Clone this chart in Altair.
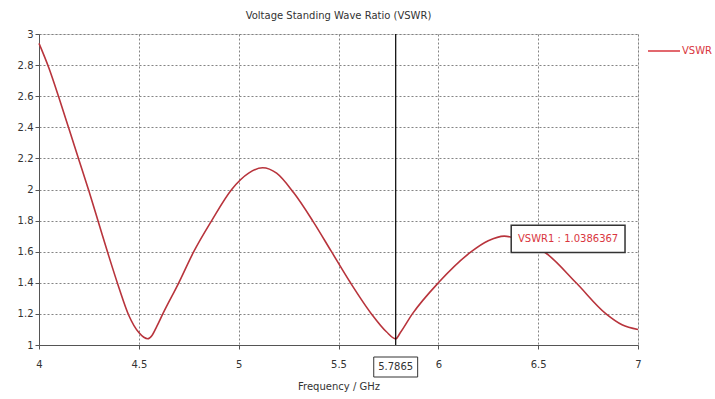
import altair as alt
import pandas as pd

freq = [4.00, 4.05, 4.10, 4.15, 4.20, 4.25, 4.30, 4.35, 4.40, 4.45, 4.50, 4.525, 4.545,
        4.565, 4.59, 4.62, 4.70, 4.775, 4.865, 4.965, 5.05, 5.12, 5.19, 5.275, 5.37, 5.465,
        5.56, 5.665, 5.74, 5.7865, 5.81, 5.87, 6.00, 6.165, 6.25, 6.33, 6.42, 6.54,
        6.69, 6.84, 6.92, 7.00]
vswr = [2.94, 2.78, 2.59, 2.39, 2.19, 1.99, 1.78, 1.57, 1.37, 1.19, 1.08, 1.05, 1.04,
        1.06, 1.12, 1.20, 1.40, 1.60, 1.80, 2.00, 2.105, 2.14, 2.105, 1.98, 1.80, 1.60,
        1.40, 1.20, 1.085, 1.04, 1.08, 1.20, 1.40, 1.60, 1.67, 1.70, 1.67, 1.59,
        1.40, 1.20, 1.13, 1.10]
x_ticks = [4, 4.5, 5, 5.5, 6, 6.5, 7]
y_ticks = [1, 1.2, 1.4, 1.6, 1.8, 2, 2.2, 2.4, 2.6, 2.8, 3]
marker_freq = 5.7865
marker_text = "VSWR1 : 1.0386367"
box_x = [6.365, 6.935]
box_y = [1.77, 1.595]

W, H = 599, 311
FONT = "DejaVu Sans"
RED = "#d9363e"

df = pd.DataFrame({"f": freq, "v": vswr})
xs = alt.Scale(domain=[4, 7], nice=False)
ys = alt.Scale(domain=[1, 3], nice=False)

line = alt.Chart(df).mark_line(color="#b8343c", strokeWidth=1.6,
                               interpolate="monotone").encode(
    x=alt.X("f:Q", scale=xs, title="Frequency / GHz",
            axis=alt.Axis(values=x_ticks, tickCount=len(x_ticks), format="~g")),
    y=alt.Y("v:Q", scale=ys, title=None,
            axis=alt.Axis(values=y_ticks, tickCount=len(y_ticks), format="~g")),
)

mk = pd.DataFrame({"f": [marker_freq], "lo": [marker_freq - 0.11], "hi": [marker_freq + 0.11],
                   "lab": [f"{marker_freq:.4f}"]})
vrule = alt.Chart(mk).mark_rule(color="#000", strokeWidth=1.2).encode(
    x=alt.X("f:Q", scale=xs), y=alt.value(0), y2=alt.value(H))
xbox = alt.Chart(mk).mark_rect(fill="white", stroke="#333", strokeWidth=1).encode(
    x=alt.X("lo:Q", scale=xs), x2="hi:Q", y=alt.value(323), y2=alt.value(343))
xlab = alt.Chart(mk).mark_text(font=FONT, fontSize=10, color="#333").encode(
    x=alt.X("f:Q", scale=xs), y=alt.value(333), text="lab:N")

bx = pd.DataFrame({"x1": [box_x[0]], "x2": [box_x[1]], "y1": [box_y[0]], "y2": [box_y[1]],
                   "t": [marker_text], "xc": [sum(box_x) / 2], "yc": [sum(box_y) / 2]})
box = alt.Chart(bx).mark_rect(fill="white", stroke="#333", strokeWidth=1.5).encode(
    x=alt.X("x1:Q", scale=xs), x2="x2:Q",
    y=alt.Y("y1:Q", scale=ys), y2="y2:Q")
boxtxt = alt.Chart(bx).mark_text(font=FONT, fontSize=10, color=RED).encode(
    x=alt.X("xc:Q", scale=xs), y=alt.Y("yc:Q", scale=ys), text="t:N")

leg = pd.DataFrame({"t": ["VSWR"]})
legline = alt.Chart(leg).mark_rule(color=RED, strokeWidth=1.5).encode(
    x=alt.value(609), x2=alt.value(641), y=alt.value(17))
legtxt = alt.Chart(leg).mark_text(font=FONT, fontSize=10, color=RED, align="left").encode(
    x=alt.value(643), y=alt.value(17), text="t:N")

chart = alt.layer(line, vrule, box, boxtxt, xbox, xlab, legline, legtxt).properties(
    width=W, height=H,
    title=alt.TitleParams("Voltage Standing Wave Ratio (VSWR)", font=FONT, fontSize=10,
                          fontWeight="normal", color="#333", offset=8, anchor="middle"),
    autosize=alt.AutoSizeParams(type="none"),
    padding={"left": 39, "top": 34, "right": 77, "bottom": 54},
).configure_view(stroke="#555", strokeWidth=1.5).configure(background="white").configure_axis(
    grid=True, gridDash=[2, 2], gridColor="#777777", gridOpacity=0.9,
    labelFont=FONT, labelFontSize=10, labelColor="#333",
    titleFont=FONT, titleFontSize=10, titleFontWeight="normal", titleColor="#333",
    domainColor="#555", tickColor="#555", tickSize=4,
    labelFlush=False, labelOverlap=False,
).configure_axisX(labelPadding=10, titlePadding=12)

chart.save("out.html", embed_options={"renderer": "svg", "actions": False})
